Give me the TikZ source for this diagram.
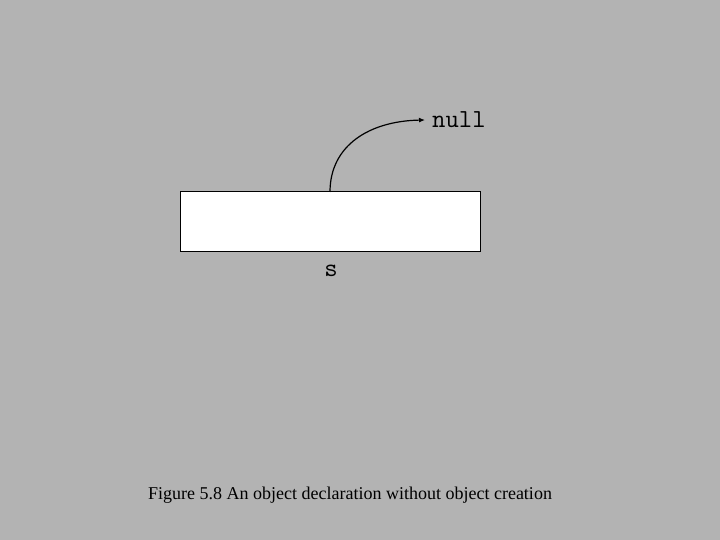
\documentclass[tikz,border=0pt]{standalone}
\usepackage{fontspec}
\setmainfont{Liberation Serif}
\usetikzlibrary{arrows.meta}
\definecolor{bg}{RGB}{179,179,179}
\tikzset{
  varbox/.style={draw=black, fill=white, line width=1pt, minimum width=300pt, minimum height=60pt, inner sep=0pt},
  codetxt/.style={font=\ttfamily\fontsize{26}{28}\selectfont, inner sep=0pt},
  captxt/.style={font=\fontsize{18}{21}\selectfont, inner sep=0pt},
  ptr/.style={line width=1.2pt, -{Latex[length=6pt,width=5pt]}}
}
\begin{document}
\begin{tikzpicture}[x=1pt,y=1pt]
\fill[bg] (0,0) rectangle (720,540);
\useasboundingbox (0,0) rectangle (720,540);
\node[varbox] (box) at (330,318) {};
\node[codetxt, anchor=west] (null) at (432,420) {null};
\node[codetxt] (s) at (331,269) {s};
\coordinate (start) at (330,348);
\draw[ptr] (start) .. controls (330,395) and (370,419) .. ([xshift=-7pt]null.west);
\node[captxt] (caption) at (350,45) {Figure 5.8 An object declaration without object creation};
\end{tikzpicture}
\end{document}
